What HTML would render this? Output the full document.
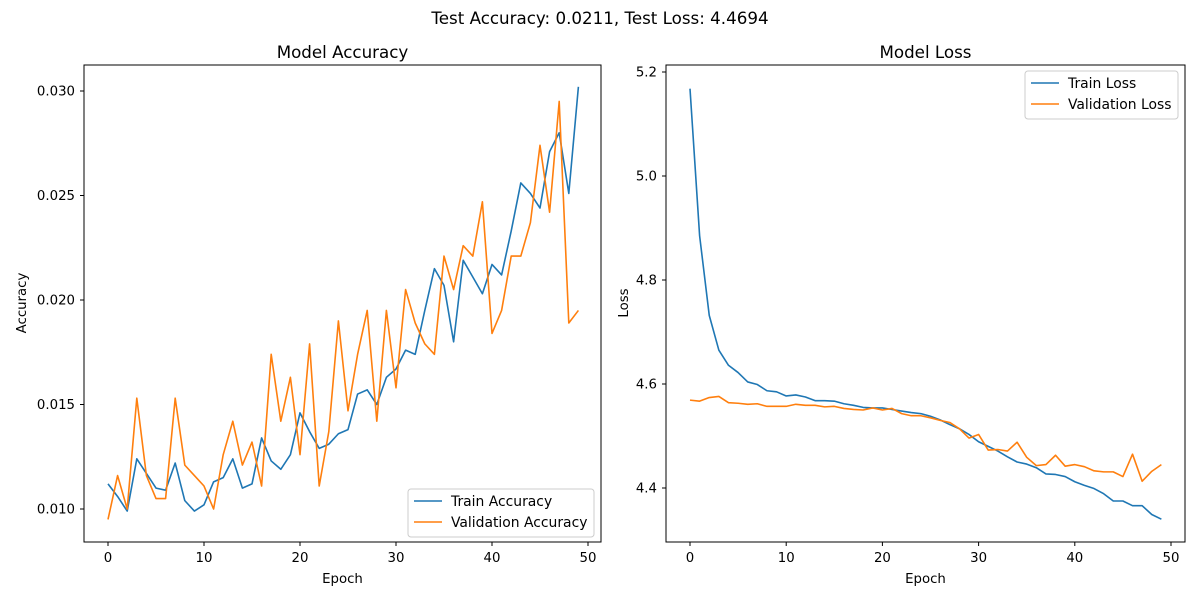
<!DOCTYPE html>
<html><head><meta charset="utf-8"><style>
body{margin:0;background:#fff;font-family:"Liberation Sans","DejaVu Sans",sans-serif}
svg text{font-family:"DejaVu Sans","Liberation Sans",sans-serif;fill:#000}
</style></head><body>
<svg id="fig" width="1200" height="600" xmlns="http://www.w3.org/2000/svg">
<rect width="1200" height="600" fill="#fff"/>
<text x="600" y="24" font-size="16.7" text-anchor="middle">Test Accuracy: 0.0211, Test Loss: 4.4694</text>
</svg>
<script>
const epochs = Array.from({length:50},(_,i)=>i);
const trainAcc = [.0112,.0106,.0099,.0124,.0117,.0110,.0109,.0122,.0104,.0099,.0102,.0113,.0115,.0124,.0110,.0112,.0134,.0123,.0119,.0126,.0146,.0137,.0129,.0131,.0136,.0138,.0155,.0157,.0150,.0163,.0167,.0176,.0174,.0195,.0215,.0207,.0180,.0219,.0211,.0203,.0217,.0212,.0233,.0256,.0251,.0244,.0271,.0280,.0251,.0302];
const valAcc = [.0095,.0116,.0100,.0153,.0116,.0105,.0105,.0153,.0121,.0116,.0111,.0100,.0126,.0142,.0121,.0132,.0111,.0174,.0142,.0163,.0126,.0179,.0111,.0137,.0190,.0147,.0174,.0195,.0142,.0195,.0158,.0205,.0189,.0179,.0174,.0221,.0205,.0226,.0221,.0247,.0184,.0195,.0221,.0221,.0237,.0274,.0242,.0295,.0189,.0195];
const trainLoss = [5.168,4.885,4.732,4.665,4.636,4.622,4.604,4.599,4.587,4.585,4.577,4.579,4.575,4.568,4.568,4.567,4.562,4.559,4.555,4.554,4.554,4.551,4.548,4.545,4.543,4.538,4.531,4.522,4.514,4.503,4.489,4.480,4.471,4.460,4.450,4.446,4.439,4.427,4.426,4.422,4.412,4.405,4.399,4.389,4.375,4.375,4.366,4.366,4.349,4.340];
const valLoss = [4.569,4.567,4.574,4.576,4.564,4.563,4.561,4.562,4.557,4.557,4.557,4.561,4.559,4.559,4.556,4.557,4.553,4.551,4.550,4.554,4.550,4.553,4.543,4.539,4.539,4.535,4.530,4.526,4.514,4.496,4.503,4.473,4.474,4.471,4.488,4.459,4.443,4.445,4.463,4.442,4.445,4.441,4.433,4.431,4.431,4.422,4.465,4.413,4.432,4.445];
const xTicks = [0,10,20,30,40,50];
const accTicks = [0.010,0.015,0.020,0.025,0.030];
const lossTicks = [4.4,4.6,4.8,5.0,5.2];

const NS="http://www.w3.org/2000/svg";
const svg=document.getElementById('fig');
function el(tag,attrs,parent){const e=document.createElementNS(NS,tag);for(const k in attrs)e.setAttribute(k,attrs[k]);(parent||svg).appendChild(e);return e;}

function panel(o){
  const g=el('g',{});
  
  
  const sx=v=>o.x0+(v-o.xmin)/(o.xmax-o.xmin)*(o.x1-o.x0);
  const sy=v=>o.ybot-(v-o.ymin)/(o.ymax-o.ymin)*(o.ybot-o.ytop);
  el('rect',{x:o.L,y:65,width:o.R-o.L,height:477,fill:'none',stroke:'#000','stroke-width':1},g);
  xTicks.forEach(t=>{const x=sx(t);
    el('line',{x1:x,y1:542,x2:x,y2:546,stroke:'#000'},g);
    const tx=el('text',{x:x,y:562,'font-size':13.3,'text-anchor':'middle'},g);tx.textContent=t;
    
    });
  o.yt.forEach(t=>{const y=sy(t);
    el('line',{x1:o.L-4,y1:y,x2:o.L,y2:y,stroke:'#000'},g);
    const tx=el('text',{x:o.L-9,y:y+4.5,'font-size':13.3,'text-anchor':'end'},g);tx.textContent=o.fmt(t);
    
    });
  const tt=el('text',{x:(o.L+o.R)/2,y:58,'font-size':16.7,'text-anchor':'middle'},g);tt.textContent=o.title;
  
  
  const xl=el('text',{x:(o.L+o.R)/2,y:583,'font-size':13.3,'text-anchor':'middle'},g);xl.textContent='Epoch';
  
  
  const yl=el('text',{x:0,y:0,'font-size':13.3,'text-anchor':'middle',transform:`translate(${o.ylx},303) rotate(-90)`},g);yl.textContent=o.ylabel;
  
  
  o.series.forEach(s=>{
    const p=el('polyline',{points:epochs.map((e,i)=>sx(e)+','+sy(s.d[i])).join(' '),fill:'none',stroke:s.c,'stroke-width':1.6,'stroke-linejoin':'round'},g);
    
    
  });
  const lg=el('g',{},g);
  
  
  el('rect',{x:o.lx,y:o.ly,width:o.lw,height:48,rx:3,fill:'#fff','fill-opacity':0.8,stroke:'#ccc'},lg);
  o.series.forEach((s,i)=>{const y=o.ly+12+i*21;
    el('line',{x1:o.lx+6,y1:y,x2:o.lx+34,y2:y,stroke:s.c,'stroke-width':1.6},lg);
    const t=el('text',{x:o.lx+43,y:y+5,'font-size':13.9},lg);t.textContent=s.label;
    
    });
}
panel({name:'accuracy-chart',L:84,R:601,x0:108,x1:588,xmin:0,xmax:50,ybot:509,ytop:91,ymin:0.010,ymax:0.030,yt:accTicks,fmt:t=>t.toFixed(3),
  title:'Model Accuracy',ylabel:'Accuracy',ylx:26,lx:408,ly:489,lw:186,
  series:[{d:trainAcc,c:'#1f77b4',n:'train-accuracy-line',label:'Train Accuracy'},{d:valAcc,c:'#ff7f0e',n:'validation-accuracy-line',label:'Validation Accuracy'}]});
panel({name:'loss-chart',L:666,R:1185,x0:690,x1:1171,xmin:0,xmax:50,ybot:488,ytop:72,ymin:4.4,ymax:5.2,yt:lossTicks,fmt:t=>t.toFixed(1),
  title:'Model Loss',ylabel:'Loss',ylx:628,lx:1025,ly:71,lw:153,
  series:[{d:trainLoss,c:'#1f77b4',n:'train-loss-line',label:'Train Loss'},{d:valLoss,c:'#ff7f0e',n:'validation-loss-line',label:'Validation Loss'}]});
</script>
</body></html>
